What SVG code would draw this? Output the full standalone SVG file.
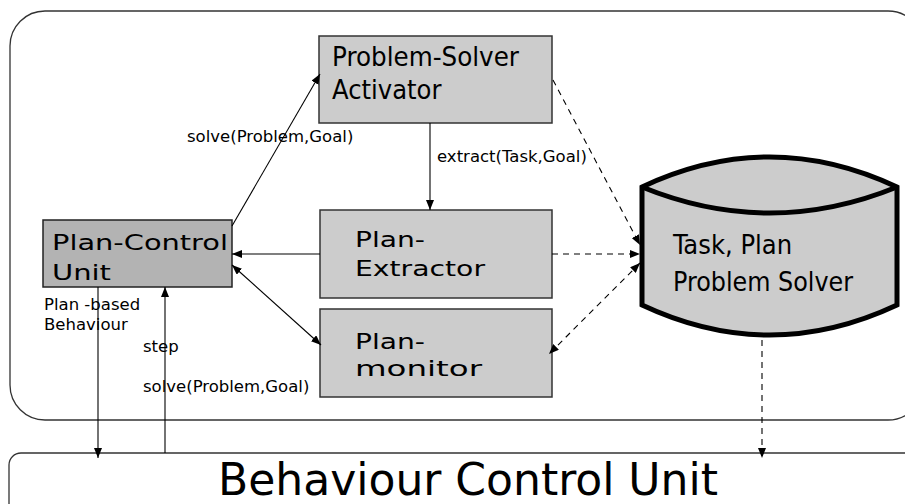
<svg xmlns="http://www.w3.org/2000/svg" width="905" height="504" viewBox="0 0 905 504">
  <defs>
    <style>
      .frame { fill: #ffffff; stroke: #333333; stroke-width: 1.3; }
      .box { fill: #cccccc; stroke: #333333; stroke-width: 1.5; }
      .box-dark { fill: #b3b3b3; stroke: #222222; stroke-width: 1.5; }
      .store { fill: #cccccc; stroke: #000000; stroke-width: 5; stroke-linejoin: miter; }
      .line { fill: none; stroke: #000000; stroke-width: 1.1; }
      .dash { fill: none; stroke: #000000; stroke-width: 1.1; stroke-dasharray: 6 5; }
      .lbl { font-family: "DejaVu Sans", "Liberation Sans", sans-serif; font-size: 16.5px; fill: #000000; }
      .big { font-family: "DejaVu Sans Condensed", "DejaVu Sans", sans-serif; font-size: 27px; fill: #000000; }
      .wide { font-family: "DejaVu Sans", "Liberation Sans", sans-serif; font-size: 22px; fill: #000000; }
      .title { font-family: "DejaVu Sans Condensed", "DejaVu Sans", sans-serif; font-size: 44px; fill: #000000; }
    </style>
    <marker id="arrow" viewBox="0 0 10 8" refX="10" refY="4" markerWidth="10" markerHeight="8" markerUnits="userSpaceOnUse" orient="auto-start-reverse">
      <path d="M0,0 L10,4 L0,8 Z" fill="#000000"/>
    </marker>
  </defs>

  <!-- outer container and lower unit -->
  <rect class="frame" x="10" y="11" width="913" height="409" rx="35" ry="35"/>
  <g id="behaviour-control-unit">
    <rect class="frame" x="9" y="453" width="1000" height="120" rx="12" ry="12"/>
    <text class="title" x="218" y="495" textLength="500" lengthAdjust="spacingAndGlyphs">Behaviour Control Unit</text>
  </g>

  <g id="problem-solver-activator">
    <rect class="box" x="319" y="36" width="233" height="87"/>
    <text class="big" x="332" y="66" textLength="187" lengthAdjust="spacingAndGlyphs">Problem-Solver</text>
    <text class="big" x="332" y="99">Activator</text>
  </g>

  <g id="plan-control-unit">
    <rect class="box-dark" x="43" y="220" width="189" height="67"/>
    <text class="wide" x="52" y="250" font-size="27" textLength="176" lengthAdjust="spacingAndGlyphs">Plan-Control</text>
    <text class="wide" x="52" y="280" font-size="27" textLength="59" lengthAdjust="spacingAndGlyphs">Unit</text>
  </g>

  <g id="plan-extractor">
    <rect class="box" x="320" y="210" width="232" height="88"/>
    <text class="wide" x="355" y="247" textLength="70" lengthAdjust="spacingAndGlyphs">Plan-</text>
    <text class="wide" x="355" y="276" textLength="130" lengthAdjust="spacingAndGlyphs">Extractor</text>
  </g>

  <g id="plan-monitor">
    <rect class="box" x="320" y="309" width="232" height="88"/>
    <text class="wide" x="355" y="349" textLength="70" lengthAdjust="spacingAndGlyphs">Plan-</text>
    <text class="wide" x="355" y="376" textLength="127" lengthAdjust="spacingAndGlyphs">monitor</text>
  </g>

  <g id="task-plan-store">
    <path class="store" d="M642,187 Q769.5,127 897,187 L897,305 Q769.5,365 642,305 Z"/>
    <path class="store" fill="none" d="M642,187 Q769.5,239 897,187"/>
    <text class="big" x="673" y="254">Task, Plan</text>
    <text class="big" x="673" y="291" textLength="180" lengthAdjust="spacingAndGlyphs">Problem Solver</text>
  </g>

  <g id="connectors">
    <line class="line" x1="232" y1="226" x2="320" y2="74" marker-end="url(#arrow)"/>
    <line class="line" x1="430" y1="123" x2="430" y2="210" marker-end="url(#arrow)"/>
    <line class="line" x1="320" y1="254" x2="232" y2="254" marker-end="url(#arrow)"/>
    <line class="line" x1="232" y1="265" x2="321" y2="345" marker-start="url(#arrow)" marker-end="url(#arrow)"/>
    <line class="line" x1="98" y1="287" x2="98" y2="458" marker-end="url(#arrow)"/>
    <line class="line" x1="165" y1="453" x2="165" y2="287" marker-end="url(#arrow)"/>
    <line class="dash" x1="553" y1="80" x2="640" y2="245" marker-end="url(#arrow)"/>
    <line class="dash" x1="552" y1="254" x2="640" y2="254" marker-end="url(#arrow)"/>
    <line class="dash" x1="640" y1="263" x2="549" y2="354" marker-start="url(#arrow)" marker-end="url(#arrow)"/>
    <line class="dash" x1="762" y1="340" x2="762" y2="458" marker-end="url(#arrow)"/>
  </g>

  <g id="labels">
    <text class="lbl" x="187" y="142">solve(Problem,Goal)</text>
    <text class="lbl" x="437" y="162">extract(Task,Goal)</text>
    <text class="lbl" x="44" y="310">Plan -based</text>
    <text class="lbl" x="44" y="330">Behaviour</text>
    <text class="lbl" x="143" y="352">step</text>
    <text class="lbl" x="143" y="392">solve(Problem,Goal)</text>
  </g>
</svg>
